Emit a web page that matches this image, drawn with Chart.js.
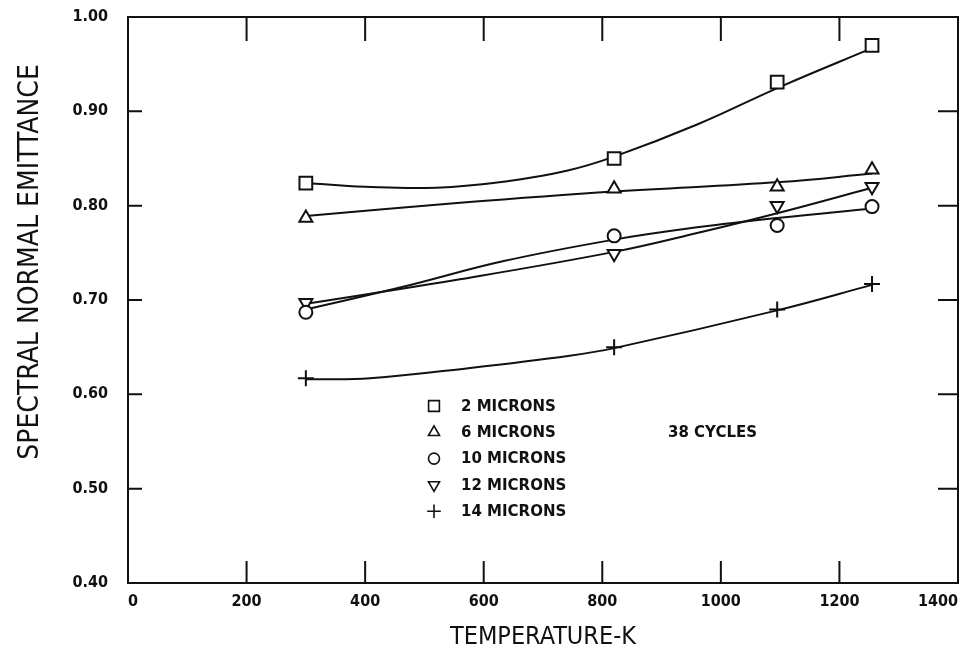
<!DOCTYPE html>
<html lang="en">
<head>
  <meta charset="UTF-8" />
  <title>Spectral normal emittance</title>
  <script src="https://cdn.jsdelivr.net/npm/chart.js"></script>
  <style>
    body { margin: 0; background: #fff; }
    #chart { display: block; }
  </style>
</head>
<body>
  <canvas id="chart" width="974" height="656"></canvas>

<script>
// measured points (temperature K)
const tempK = [300, 820, 1095, 1255];
const em2um  = [0.824, 0.850, 0.931, 0.970];
const em6um  = [0.787, 0.818, 0.820, 0.838];
const em10um = [0.687, 0.768, 0.779, 0.799];
const em12um = [0.697, 0.749, 0.800, 0.820];
const em14um = [0.617, 0.650, 0.690, 0.717];

// faired curves
const fitT2  = [300, 400, 520, 640, 740, 820, 960, 1100, 1255];
const fit2   = [0.824, 0.820, 0.819, 0.826, 0.837, 0.852, 0.886, 0.926, 0.967];
const fitT6  = [300, 560, 820, 1100, 1255];
const fit6   = [0.789, 0.803, 0.815, 0.825, 0.834];
const fitT10 = [300, 464, 632, 820, 960, 1095, 1255];
const fit10  = [0.690, 0.714, 0.741, 0.764, 0.777, 0.787, 0.797];
const fitT12 = [300, 560, 820, 960, 1095, 1255];
const fit12  = [0.696, 0.722, 0.751, 0.771, 0.792, 0.819];
const fitT14 = [300, 408, 577, 745, 820, 1095, 1255];
const fit14  = [0.616, 0.617, 0.628, 0.641, 0.649, 0.689, 0.716];

const xTicks = [0, 200, 400, 600, 800, 1000, 1200, 1400];
const yTicks = [0.40, 0.50, 0.60, 0.70, 0.80, 0.90, 1.00];

const seriesNames = ['2 MICRONS', '6 MICRONS', '10 MICRONS', '12 MICRONS', '14 MICRONS'];
const noteText = '38 CYCLES';
const yTitle = 'SPECTRAL NORMAL EMITTANCE';

const INK = '#111';
const tickFont = { family: 'DejaVu Sans Condensed', size: 16, weight: 'bold' };

function pts(xs, ys) {
  return xs.map((x, i) => ({ x: x, y: ys[i] }));
}

const markerStyles = [
  { pointStyle: 'rect', radius: 9, rotation: 0 },
  { pointStyle: 'triangle', radius: 7.5, rotation: 0 },
  { pointStyle: 'circle', radius: 6.5, rotation: 0 },
  { pointStyle: 'triangle', radius: 7.5, rotation: 180 },
  { pointStyle: 'cross', radius: 8, rotation: 0 }
];

function markerSet(data, k) {
  const m = markerStyles[k];
  return {
    label: seriesNames[k],
    data: pts(tempK, data),
    showLine: false,
    pointStyle: m.pointStyle,
    pointRadius: m.radius,
    pointRotation: m.rotation,
    pointBorderWidth: 2,
    pointBorderColor: INK,
    pointBackgroundColor: '#fff',
    order: 0
  };
}

function curveSet(xs, ys) {
  return {
    data: pts(xs, ys),
    borderColor: INK,
    borderWidth: 2,
    pointRadius: 0,
    tension: 0.4,
    fill: false,
    order: 1
  };
}

function noPad(s) {
  s.paddingLeft = 0; s.paddingRight = 0;
  s.paddingTop = 0; s.paddingBottom = 0;
}

// frame, inward ticks, y title, legend block and note
const framePlugin = {
  id: 'frame',
  afterDatasetsDraw(chart) {
    const ctx = chart.ctx;
    const a = chart.chartArea;
    const xs = chart.scales.x, ys = chart.scales.y;
    ctx.save();
    ctx.strokeStyle = INK;
    ctx.lineWidth = 2;
    ctx.strokeRect(a.left, a.top, a.right - a.left, a.bottom - a.top);

    xTicks.slice(1, -1).forEach(v => {
      const px = xs.getPixelForValue(v);
      ctx.beginPath();
      ctx.moveTo(px, a.bottom); ctx.lineTo(px, a.bottom - 22);
      ctx.moveTo(px, a.top); ctx.lineTo(px, a.top + 24);
      ctx.stroke();
    });
    yTicks.slice(1, -1).forEach(v => {
      const py = ys.getPixelForValue(v);
      ctx.beginPath();
      ctx.moveTo(a.left, py); ctx.lineTo(a.left + 14, py);
      ctx.moveTo(a.right, py); ctx.lineTo(a.right - 20, py);
      ctx.stroke();
    });

    // y axis title, sits a bit above the middle like the original
    ctx.save();
    ctx.translate(31, 262);
    ctx.rotate(-Math.PI / 2);
    ctx.font = '28px "DejaVu Sans Condensed"';
    ctx.fillStyle = INK;
    ctx.textAlign = 'center';
    ctx.textBaseline = 'middle';
    ctx.fillText(yTitle, 0, 0);
    ctx.restore();

    // legend
    const lx = 434, ly = 406, step = 26.3;
    ctx.font = 'bold 15px "DejaVu Sans"';
    ctx.textBaseline = 'middle';
    ctx.textAlign = 'left';
    seriesNames.forEach((name, k) => {
      const m = markerStyles[k];
      const y = ly + k * step;
      ctx.lineWidth = 1.6;
      ctx.fillStyle = '#fff';
      Chart.helpers.drawPoint(ctx, {
        pointStyle: m.pointStyle,
        radius: m.radius * 0.85,
        rotation: m.rotation,
        borderWidth: 1.6
      }, lx, y);
      ctx.fillStyle = INK;
      ctx.fillText(name, lx + 27, y + 1);
    });
    ctx.fillText(noteText, 668, ly + step + 1);
    ctx.restore();
  }
};

const chart = new Chart(document.getElementById('chart'), {
  type: 'line',
  data: {
    datasets: [
      markerSet(em2um, 0),
      markerSet(em6um, 1),
      markerSet(em10um, 2),
      markerSet(em12um, 3),
      markerSet(em14um, 4),
      curveSet(fitT2, fit2),
      curveSet(fitT6, fit6),
      curveSet(fitT10, fit10),
      curveSet(fitT12, fit12),
      curveSet(fitT14, fit14)
    ]
  },
  options: {
    responsive: false,
    devicePixelRatio: 1,
    animation: false,
    layout: { padding: { top: 17, right: 16, left: 0, bottom: 0 } },
    scales: {
      x: {
        type: 'linear',
        min: 0,
        max: 1400,
        afterBuildTicks: s => { s.ticks = xTicks.map(v => ({ value: v })); },
        afterFit: s => { s.height = 73; noPad(s); },
        grid: { display: false, drawTicks: false },
        border: { display: false },
        ticks: {
          font: tickFont,
          color: INK,
          padding: 9,
          maxRotation: 0,
          align: 'inner',
          callback: v => String(v)
        },
        title: {
          display: true,
          text: 'TEMPERATURE-K',
          font: { family: 'DejaVu Sans Condensed', size: 25 },
          color: INK,
          padding: { top: 0, bottom: 4 }
        }
      },
      y: {
        type: 'linear',
        min: 0.4,
        max: 1.0,
        afterBuildTicks: s => { s.ticks = yTicks.map(v => ({ value: v })); },
        afterFit: s => { s.width = 128; noPad(s); },
        grid: { display: false, drawTicks: false },
        border: { display: false },
        ticks: {
          font: tickFont,
          color: INK,
          padding: 20,
          callback: v => v.toFixed(2)
        },
        title: { display: false }
      }
    },
    plugins: {
      legend: { display: false },
      tooltip: { enabled: false }
    }
  },
  plugins: [framePlugin]
});
</script>
</body>
</html>
